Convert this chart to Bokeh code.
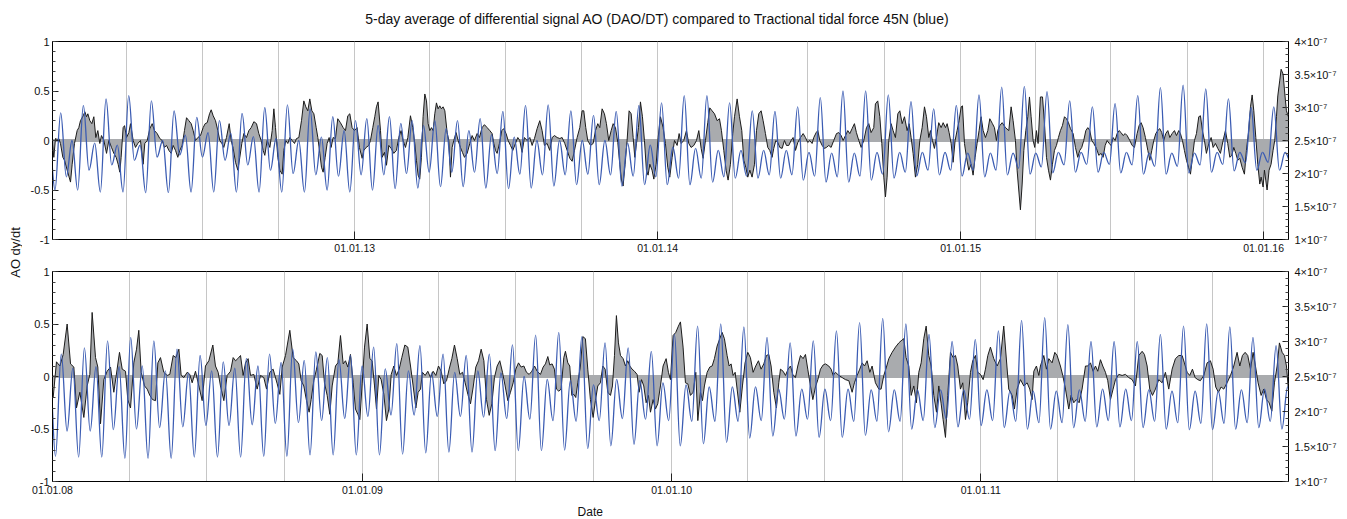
import numpy as np
from bokeh.plotting import figure
from bokeh.layouts import row, column
from bokeh.models import (Range1d, LinearAxis, FixedTicker, Label, Span,
                          CustomJSTickFormatter)
from bokeh.embed import file_html
from bokeh.resources import INLINE

# ---------------- data ----------------
title_text = "5-day average of differential signal AO (DAO/DT) compared to Tractional tidal force 45N (blue)"
y_label = "AO dy/dt"
x_label = "Date"

top_origin = "2012-01-01"
top_view_days = (1.8, 1491.0)
top_year_ticks = ["2013-01-01", "2014-01-01", "2015-01-01", "2016-01-01"]
bot_origin = "2008-01-01"
bot_view_days = (0.0, 1459.3)
bot_year_ticks = ["2008-01-01", "2009-01-01", "2010-01-01", "2011-01-01"]

# tidal force (x 1e-7), successive extrema, one every quarter of a tropical month
tide_step_days = 6.83
top_tide_first_day = -2.0
top_tide = [2.50,
 1.75,2.92,1.95,2.50, 1.75,3.03,2.05,2.46, 1.72,3.13,2.13,2.43, 1.72,3.18,2.20,2.43,
 1.71,3.10,2.25,2.50, 1.71,2.95,2.28,2.58, 1.72,2.85,2.25,2.62, 1.72,2.80,2.20,2.61,
 1.72,2.91,2.13,2.56, 1.72,3.00,2.05,2.53, 1.72,3.04,2.00,2.50, 1.72,2.98,1.98,2.55,
 1.75,2.86,1.96,2.65, 1.72,2.80,1.98,2.83, 1.75,2.73,1.98,2.86, 1.77,2.76,2.00,2.80,
 1.78,2.73,2.02,2.80, 1.80,2.68,2.02,2.80, 1.80,2.65,2.02,2.83, 1.78,2.59,2.00,2.94,
 1.77,2.55,1.99,3.03, 1.78,2.50,1.98,3.04, 1.81,2.50,1.98,2.95, 1.83,2.50,1.99,2.88,
 1.83,2.50,1.98,2.94, 1.81,2.46,1.96,3.03, 1.83,2.43,1.95,3.07, 1.83,2.40,1.93,3.18,
 1.83,2.38,1.93,3.18, 1.87,2.35,1.95,3.07, 1.93,2.35,1.96,2.95, 1.93,2.35,1.98,2.94,
 1.93,2.35,1.98,3.01, 1.90,2.32,1.96,3.15, 1.87,2.31,1.95,3.25, 1.87,2.31,1.96,3.25,
 1.90,2.32,1.99,3.19, 1.93,2.32,2.02,3.09, 1.96,2.32,2.05,2.98, 1.98,2.32,2.05,3.03,
 1.96,2.31,2.05,3.19, 1.95,2.31,2.05,3.31, 1.98,2.31,2.08,3.32, 1.99,2.31,2.10,3.24,
 2.01,2.32,2.13,3.10, 2.02,2.32,2.14,3.01, 2.02,2.32,2.14,3.06, 2.01,2.32,2.13,3.18,
 1.99,2.31,2.11,3.30, 1.99,2.31,2.11,3.34, 2.01,2.31,2.13,3.28, 2.02,2.32,2.14,3.13,
 2.04,2.32,2.16,3.00, 2.05,2.32,2.17,3.01, 2.05,2.32,2.17]
bot_tide_first_day = -3.3
bot_tide = [2.62,
 1.36,2.82,1.72,2.62, 1.35,2.91,1.72,2.64, 1.35,3.01,1.74,2.64, 1.33,3.06,1.75,2.65,
 1.33,3.01,1.77,2.58, 1.33,2.89,1.78,2.55, 1.35,2.80,1.80,2.58, 1.35,2.71,1.80,2.62,
 1.35,2.76,1.81,2.65, 1.36,2.82,1.83,2.70, 1.36,2.89,1.84,2.73, 1.38,2.85,1.87,2.77,
 1.38,2.74,1.90,2.80, 1.38,2.65,1.93,2.92, 1.38,2.61,1.95,2.97, 1.39,2.58,1.95,2.94,
 1.41,2.55,1.93,2.82, 1.42,2.56,1.93,2.80, 1.42,2.58,1.92,2.82, 1.44,2.55,1.90,2.95,
 1.44,2.50,1.89,3.09, 1.44,2.46,1.87,3.13, 1.45,2.44,1.86,3.07, 1.47,2.38,1.87,2.98,
 1.51,2.46,1.90,2.91, 1.53,2.44,1.89,2.86, 1.51,2.41,1.87,3.10, 1.51,2.38,1.86,3.22,
 1.54,2.35,1.86,3.25, 1.56,2.35,1.86,3.21, 1.62,2.35,1.87,3.06, 1.65,2.32,1.89,2.98,
 1.65,2.32,1.89,3.01, 1.63,2.32,1.87,3.15, 1.63,2.32,1.86,3.27, 1.66,2.31,1.86,3.33,
 1.71,2.31,1.86,3.25, 1.75,2.31,1.87,3.10, 1.77,2.31,1.89,3.00, 1.78,2.31,1.89,3.03,
 1.80,2.31,1.87,3.15, 1.77,2.29,1.86,3.30, 1.75,2.29,1.84,3.34, 1.75,2.29,1.84,3.24,
 1.77,2.31,1.86,3.00, 1.78,2.32,1.87,3.00, 1.78,2.32,1.87,3.00, 1.77,2.31,1.86,3.10,
 1.75,2.29,1.84,3.22, 1.74,2.29,1.83,3.25, 1.74,2.29,1.83,3.21, 1.75,2.31,1.84,3.06,
 1.77,2.32,1.86,2.94, 1.75,2.35,1.86]

# AO differential signal: (day since origin, value)
top_ao = [(1.4,0.0),(3.4,-0.17),(5.4,0.02),(7.4,0.01),(9.4,0.02),(11.4,-0.03),(14.3,-0.17),(16.3,-0.20),(19.5,-0.30),(23.5,-0.42),(25.5,-0.24),(28.3,-0.03),(31.5,0.10),(33.5,0.13),(35.5,0.20),(38.8,0.25),(40.8,0.29),(42.8,0.24),(44.4,0.27),(46.8,0.20),(49.2,0.17),(51.6,0.24),(54.0,0.03),(56.4,0.10),(58.8,-0.03),(60.8,0.05),(63.7,0.0),(66.9,-0.13),(69.7,0.0),(72.9,-0.07),(75.7,-0.13),(78.5,-0.17),(80.9,-0.24),(82.9,-0.32),(84.5,-0.17),(86.9,0.13),(88.6,0.15),(91.0,0.03),(93.8,0.08),(95.8,0.17),(99.0,0.0),(101.8,-0.07),(104.6,-0.03),(107.8,0.0),(111.0,-0.24),(113.0,-0.03),(115.9,0.0),(119.1,0.12),(121.9,0.17),(124.7,0.10),(127.9,0.07),(131.1,0.02),(133.9,0.0),(136.7,-0.07),(139.2,-0.05),(142.0,-0.10),(144.8,-0.13),(147.2,-0.05),(150.0,-0.10),(152.8,-0.17),(155.2,-0.10),(158.0,-0.05),(160.8,0.10),(163.3,0.23),(166.1,0.20),(168.9,0.17),(171.3,0.10),(174.1,0.0),(176.9,0.03),(180.1,0.05),(183.3,0.13),(185.7,0.17),(188.2,0.18),(191.0,0.27),(193.0,0.31),(195.4,0.25),(198.2,0.20),(201.0,0.10),(203.4,0.0),(205.8,-0.03),(208.2,-0.07),(211.4,0.03),(214.7,0.17),(217.1,0.0),(219.5,-0.08),(222.3,-0.22),(225.1,-0.30),(227.5,-0.17),(229.9,-0.03),(232.3,0.07),(235.5,0.03),(238.4,0.10),(241.2,0.13),(244.4,0.19),(247.6,0.17),(250.4,0.07),(253.2,0.0),(255.6,-0.10),(257.6,-0.15),(260.4,0.0),(263.7,-0.07),(266.5,0.10),(268.5,0.32),(270.5,0.13),(273.3,-0.17),(275.7,-0.30),(278.5,-0.34),(280.5,-0.10),(282.9,0.0),(285.3,-0.03),(287.8,0.03),(290.6,0.0),(293.4,-0.03),(295.8,0.02),(298.6,0.03),(301.8,0.20),(304.6,0.40),(307.0,0.34),(309.4,0.30),(311.8,0.42),(314.3,0.30),(316.7,0.27),(319.5,0.13),(321.5,0.03),(323.9,-0.13),(325.9,-0.27),(327.9,-0.32),(330.3,-0.17),(332.7,-0.03),(335.1,0.03),(337.5,-0.07),
 (339.9,0.03),(342.7,0.02),(345.5,0.22),(348.7,0.18),(352.0,0.13),(354.8,0.10),(357.6,0.25),(360.0,0.27),(362.8,0.13),(365.6,0.10),(368.8,0.13),(371.6,-0.07),(374.9,-0.18),(376.9,-0.10),(379.7,-0.07),(382.9,-0.05),(384.9,0.0),(387.7,0.13),(390.1,0.24),(392.1,0.34),(394.1,0.39),(397.0,0.10),(399.0,-0.17),(401.8,-0.12),(404.2,-0.25),(407.0,-0.05),(409.8,-0.08),(413.0,-0.13),(416.2,-0.10),(419.0,0.03),(421.8,0.10),(424.2,0.0),(427.1,-0.07),(429.9,0.03),(433.1,0.25),(435.9,0.13),(438.3,-0.03),(440.3,-0.20),(442.3,-0.35),(444.3,-0.39),(446.3,-0.17),(448.3,0.24),(450.4,0.47),(452.4,0.40),(454.4,0.17),(456.4,0.10),(458.4,0.13),(460.4,0.10),(462.4,0.27),(464.4,0.38),(466.4,0.32),(468.4,0.35),(470.4,0.32),(472.4,0.34),(474.5,0.30),(477.3,0.08),(479.3,0.0),(481.3,-0.37),(483.3,-0.07),(485.3,0.0),(488.1,0.08),(490.5,0.0),(493.3,-0.07),(495.7,-0.12),(498.2,-0.17),(501.4,-0.13),(504.6,-0.03),(507.4,0.05),(510.2,0.0),(513.4,0.07),(516.2,0.03),(519.4,0.13),(522.2,0.16),(525.5,0.13),(528.7,0.10),(531.5,0.07),(533.5,-0.03),(535.5,-0.10),(537.5,-0.13),(540.3,-0.03),(543.1,0.10),(545.5,0.12),(548.3,0.07),(550.8,0.0),(553.6,-0.05),(556.4,-0.10),(559.6,-0.03),(562.4,0.03),(564.8,0.0),(567.6,-0.12),(570.4,0.03),(573.6,0.0),(576.9,0.03),(579.7,-0.05),(582.5,0.02),(585.7,0.12),(588.9,0.20),(591.7,0.10),(594.5,-0.05),(597.7,-0.03),(600.9,-0.10),(603.8,0.03),(606.6,0.05),(609.8,0.03),(613.0,0.02),(615.8,0.03),(619.0,-0.03),(621.9,-0.10),(625.1,-0.18),(627.9,-0.21),(630.7,-0.10),(633.9,0.03),(637.1,0.13),(639.9,0.30),(641.9,0.30),(644.3,0.13),(646.7,0.0),(650.0,-0.05),(653.2,-0.03),(656.0,0.10),(658.8,0.17),(661.2,0.13),(664.0,0.32),(666.8,0.27),(669.2,0.17),(672.0,0.0),(674.9,0.10),(677.3,0.17),(680.1,0.13),(682.9,-0.02),(685.3,-0.24),(687.3,-0.40),(689.3,-0.46),(691.7,-0.24),(694.1,0.0),(696.5,0.30),(699.0,0.27),(701.4,0.03),(703.4,-0.17),(705.4,-0.03),(707.8,0.13),(710.2,0.39),(712.6,0.24),(715.0,0.0),(717.4,-0.30),(719.4,-0.35),(721.5,-0.24),(724.2,-0.30),(726.3,-0.39),(729.1,-0.24),(731.5,0.03),
 (734.3,0.24),(737.5,0.13),(740.3,-0.03),(743.1,-0.27),(745.5,-0.37),(748.4,-0.17),(751.2,0.0),(754.4,-0.05),(756.8,0.07),(759.2,-0.03),(762.4,0.0),(765.6,0.10),(768.4,-0.03),(771.2,-0.07),(774.5,-0.05),(777.7,0.0),(780.5,0.10),(783.3,-0.08),(785.7,-0.18),(788.5,0.0),(791.3,0.18),(793.7,0.33),(796.5,0.30),(799.4,0.27),(802.6,0.20),(805.4,0.22),(807.8,0.10),(810.6,-0.10),(813.4,-0.30),(815.8,-0.40),(818.6,-0.24),(821.4,0.07),(823.5,0.24),(826.7,0.42),(829.5,0.24),(832.3,0.10),(834.7,-0.20),(837.1,-0.27),(839.5,-0.37),(842.0,-0.30),(844.7,-0.37),(847.6,-0.24),(850.0,0.10),(852.8,0.27),(855.6,0.30),(858.0,0.20),(860.8,0.07),(863.6,-0.07),(866.0,-0.10),(868.8,-0.17),(870.8,-0.08),(873.3,0.0),(875.7,-0.02),(878.1,-0.07),(880.9,-0.08),(883.7,0.0),(886.1,-0.05),(888.9,-0.05),(891.7,0.0),(894.1,0.03),(897.0,-0.10),(899.8,-0.02),(903.0,0.03),(906.2,0.07),(909.0,0.03),(911.8,-0.02),(914.2,0.0),(917.0,-0.03),(919.0,0.03),(921.9,0.08),(923.9,0.10),(926.3,0.0),(929.1,-0.05),(931.9,-0.08),(934.3,-0.07),(937.1,-0.05),(939.9,-0.07),(943.1,0.0),(946.4,0.07),(949.2,0.08),(952.0,0.05),(954.4,0.0),(957.2,0.05),(960.0,0.10),(962.4,0.07),(965.2,0.12),(968.0,0.17),(970.4,0.08),(973.3,0.0),(976.1,-0.07),(979.3,0.0),(982.5,0.13),(985.3,0.17),(988.1,0.08),(991.3,0.13),(993.3,0.37),(996.1,0.40),(998.6,0.24),(1001.0,-0.03),(1003.4,-0.37),(1005.4,-0.57),(1007.4,-0.37),(1009.4,0.0),(1012.2,0.17),(1014.6,0.10),(1017.4,0.03),(1020.3,0.27),(1022.7,0.30),(1025.5,0.17),(1028.3,0.24),(1031.5,0.10),(1033.9,0.17),(1036.3,0.03),(1038.7,-0.13),(1041.5,-0.37),(1044.3,-0.24),(1046.8,0.0),(1049.6,0.13),(1052.4,0.34),(1054.8,0.24),(1057.6,0.03),(1059.6,0.10),(1062.0,0.0),(1064.4,-0.08),(1066.8,0.03),(1069.6,0.18),(1072.5,0.13),(1074.9,0.18),(1077.7,0.13),(1079.7,0.17),(1082.1,0.08),(1084.5,-0.03),(1086.9,-0.22),(1089.3,0.0),(1091.7,0.10),(1094.1,0.20),(1096.6,0.34),(1098.2,0.35),(1100.6,-0.03),(1103.0,-0.17),(1105.8,-0.30),(1108.6,-0.24),(1111.0,-0.35),(1113.4,-0.17),(1115.8,-0.03),(1118.2,0.10),(1120.6,0.24),(1123.1,0.10),(1125.9,0.03),(1128.7,0.10),(1131.1,0.22),
 (1134.3,0.17),(1136.7,0.13),(1139.1,0.0),(1140.7,0.10),(1143.1,0.15),(1146.0,0.18),(1150.0,0.13),(1154.0,0.10),(1156.8,0.34),(1159.2,0.20),(1162.0,0.0),(1164.0,-0.30),(1166.0,-0.50),(1168.0,-0.70),(1170.1,-0.44),(1172.1,-0.10),(1174.5,0.10),(1176.9,0.24),(1178.9,0.44),(1180.9,0.24),(1183.3,0.0),(1185.3,-0.07),(1187.3,0.10),(1189.3,-0.03),(1192.1,0.44),(1194.6,0.44),(1197.0,0.17),(1199.4,-0.17),(1201.8,-0.30),(1204.2,-0.40),(1206.6,-0.24),(1209.0,-0.10),(1211.4,-0.05),(1213.8,0.03),(1216.2,0.10),(1218.6,0.15),(1221.1,0.24),(1223.5,0.22),(1225.9,0.18),(1228.3,0.12),(1231.5,0.07),(1234.3,-0.07),(1237.1,-0.17),(1239.5,-0.10),(1241.9,-0.07),(1244.3,0.0),(1246.8,0.10),(1249.2,0.13),(1251.6,0.10),(1254.0,0.0),(1256.4,-0.03),(1259.6,-0.08),(1262.4,-0.15),(1265.2,-0.13),(1267.6,-0.17),(1270.1,-0.05),(1272.5,0.0),(1274.9,-0.03),(1277.3,-0.05),(1279.7,0.03),(1282.1,0.0),(1284.5,0.07),(1286.9,0.10),(1289.3,0.08),(1291.7,0.05),(1294.2,0.07),(1296.6,0.05),(1299.8,0.0),(1302.6,-0.05),(1305.4,-0.07),(1308.6,0.07),(1311.0,0.15),(1313.4,0.18),(1315.8,0.13),(1318.6,0.03),(1321.5,-0.10),(1323.9,-0.20),(1326.3,-0.10),(1328.7,0.0),(1331.1,0.07),(1333.5,0.10),(1335.9,0.12),(1338.3,0.08),(1340.7,0.0),(1343.1,0.07),(1345.6,0.10),(1348.0,0.03),(1350.8,0.07),(1353.6,0.10),(1356.0,0.05),(1358.8,0.10),(1360.8,0.07),(1363.2,0.0),(1365.6,-0.10),(1368.1,-0.20),(1370.5,-0.27),(1372.9,-0.34),(1375.3,-0.17),(1377.7,0.0),(1380.1,0.07),(1382.9,0.24),(1384.9,0.25),(1387.3,0.10),(1389.7,0.0),(1392.1,-0.13),(1395.0,-0.03),(1397.8,0.03),(1400.2,-0.07),(1403.0,-0.03),(1405.8,-0.08),(1409.0,-0.13),(1412.2,0.0),(1415.0,0.10),(1417.8,-0.03),(1420.3,-0.17),(1422.7,-0.15),(1425.1,-0.07),(1427.5,-0.13),(1429.9,-0.20),(1432.3,-0.18),(1435.1,-0.27),(1437.9,-0.34),(1440.3,-0.10),(1443.1,0.10),(1445.2,0.34),(1447.2,0.46),(1449.2,0.30),(1451.6,0.03),(1454.0,-0.24),(1456.4,-0.44),(1458.0,-0.37),(1460.4,-0.47),(1462.0,-0.30),(1463.6,-0.40),(1465.2,-0.50),(1467.6,-0.30),(1470.0,-0.24),(1472.4,-0.10),(1474.4,0.0),(1476.5,0.24),(1478.1,0.45),(1480.5,0.61),(1482.1,0.72),(1484.5,0.67),(1486.9,0.44),(1488.5,0.30),(1490.9,0.24)]

bot_ao = [(0.8,-0.20),(4.7,0.14),(8.7,0.10),(12.6,0.21),(17.3,0.50),(21.3,0.12),(25.2,0.09),(28.3,-0.30),(32.3,-0.15),(37.0,-0.39),(40.9,-0.09),(44.1,0.02),(46.8,0.61),(50.8,0.18),(53.5,0.09),(56.7,-0.45),(60.6,-0.03),(64.5,0.05),(68.5,0.09),(72.4,-0.15),(76.3,0.07),(79.1,0.23),(82.3,0.07),(86.2,0.05),(88.9,-0.22),(92.1,-0.30),(96.0,0.13),(99.2,0.26),(101.9,0.44),(104.7,0.04),(108.6,-0.09),(111.8,-0.12),(114.9,-0.18),(118.1,-0.22),(121.6,-0.23),(124.4,0.13),(127.5,0.18),(131.4,0.04),(135.4,0.01),(138.5,0.02),(142.5,0.20),(145.6,0.18),(149.2,0.26),(151.9,0.01),(155.1,-0.01),(159.0,0.04),(162.1,0.02),(164.9,-0.06),(168.8,0.05),(172.8,-0.09),(176.7,-0.23),(180.6,0.10),(184.6,0.15),(189.3,0.30),(192.4,0.10),(195.6,0.04),(198.3,-0.09),(202.3,-0.23),(206.2,0.01),(210.2,0.05),(213.3,0.18),(216.1,0.15),(218.8,0.17),(222.0,0.20),(225.1,0.01),(227.9,0.13),(231.0,0.17),(233.8,0.01),(237.7,0.02),(241.6,-0.12),(245.6,0.01),(249.5,-0.01),(252.7,-0.12),(256.6,0.04),(260.5,0.07),(265.3,-0.07),(268.4,-0.17),(271.2,0.09),(275.1,0.20),(280.2,0.44),
 (284.1,0.18),(288.1,0.15),(290.8,0.12),(293.6,-0.04),(296.7,-0.09),(299.9,-0.23),(303.0,-0.34),(305.4,-0.22),(308.5,-0.04),(311.7,0.07),(315.6,0.22),(318.4,0.20),(321.1,-0.06),(324.3,-0.18),(327.4,-0.36),(330.2,-0.09),(334.1,0.10),(336.9,0.13),(340.0,0.39),(343.2,0.12),(345.9,0.15),(348.7,0.09),(351.8,0.21),(355.0,-0.06),(357.7,-0.31),(360.5,-0.36),(362.9,-0.41),(365.6,-0.07),(368.4,0.28),(371.5,0.50),(374.7,0.17),(377.4,0.15),(380.2,-0.09),(382.5,-0.31),(385.3,0.01),(388.0,-0.03),(391.2,-0.17),(394.3,-0.42),(397.1,-0.31),(399.9,0.02),(403.0,0.10),(406.1,0.01),(409.3,0.07),(412.4,0.18),(416.0,0.30),(419.5,0.28),(422.7,0.10),(425.8,-0.09),(429.0,-0.30),(431.7,-0.15),(434.5,-0.12),(436.8,0.04),(440.0,0.01),(443.1,0.05),(446.3,-0.01),(449.4,0.05),(452.6,0.01),(455.7,0.10),(458.9,0.05),(462.0,-0.07),(465.2,-0.04),(468.3,0.07),(471.5,0.17),(474.6,0.30),(477.8,0.17),(480.9,0.02),(484.1,0.04),(487.2,-0.06),(490.4,-0.17),(493.5,-0.26),(496.7,-0.10),(499.8,0.09),(503.0,0.15),(506.1,0.26),(509.3,0.15),(512.4,-0.22),(515.6,-0.37),(518.7,-0.26),(521.8,-0.01),(525.0,0.10),(528.1,0.15),(531.3,0.04),(534.4,-0.09),(537.6,-0.23),(540.7,-0.15),(543.9,-0.06),(547.0,0.07),(550.2,0.13),(553.3,0.09),(556.5,0.10),(559.6,0.04),(562.8,0.02),(565.9,0.05),(569.1,0.10),(572.2,0.05),
 (576.1,0.02),(579.3,0.09),(582.0,0.12),(584.8,0.19),(587.1,0.11),(589.9,0.12),(592.6,0.07),(595.0,-0.12),(597.8,-0.14),(600.5,-0.12),(603.7,0.18),(605.6,0.24),(608.4,0.13),(610.7,0.10),(613.1,-0.18),(615.5,-0.17),(617.8,-0.20),(620.2,-0.06),(623.3,0.10),(626.1,0.38),(629.2,0.36),(632.0,0.07),(635.1,-0.22),(638.3,-0.39),(641.0,-0.23),(643.8,-0.09),(646.9,-0.06),(649.7,0.10),(652.5,0.07),(655.6,-0.15),(658.8,-0.18),(661.1,-0.09),(663.5,0.20),(665.8,0.58),(668.2,0.32),(670.6,0.20),(673.7,0.17),(676.5,0.10),(679.2,0.15),(681.6,0.10),(684.3,0.07),(687.1,0.05),(690.2,0.02),(692.6,-0.15),(695.4,-0.03),(698.1,-0.09),(700.9,-0.25),(703.6,-0.18),(706.0,-0.34),(709.1,-0.22),(711.9,-0.31),(714.6,-0.26),(717.8,-0.09),(720.9,0.10),(724.5,0.17),(727.2,0.04),(729.6,-0.03),(732.7,0.39),(735.9,0.42),(739.0,0.48),(741.4,0.52),(744.5,0.28),(747.3,-0.06),(750.1,-0.07),(753.2,-0.18),(756.4,-0.15),(759.5,0.04),(761.9,-0.42),(765.0,-0.15),(767.4,-0.23),(769.7,-0.09),(772.9,0.04),(776.0,0.09),(778.8,0.10),(781.5,0.17),(784.7,0.29),(787.8,0.36),(790.6,0.42),(793.3,0.36),(796.5,0.20),(798.9,0.10),(801.2,0.12),(803.6,0.01),(806.0,0.04),(808.3,-0.12),(811.5,-0.34),(814.6,-0.09),(817.7,0.13),(820.9,0.23),(824.0,0.18),(827.2,0.04),(830.3,0.10),(833.5,0.15),(836.6,0.07),(839.8,0.12),(842.9,0.20),(845.7,0.21),(848.4,0.10),(851.6,-0.15),(854.7,-0.30),(857.5,-0.06),
 (859.5,0.07),(862.6,0.05),(865.4,0.01),(868.5,0.07),(871.3,0.10),(874.4,0.01),(877.2,-0.01),(879.9,0.10),(883.1,0.20),(886.2,0.17),(889.0,0.21),(891.7,0.07),(894.9,-0.09),(897.7,-0.22),(900.8,-0.10),(903.6,-0.03),(906.7,0.07),(909.9,0.11),(912.6,0.12),(916.5,0.10),(919.3,0.07),(921.7,0.01),(924.4,0.04),(928.4,0.01),(932.3,-0.01),(936.2,-0.03),(940.2,-0.04),(944.1,-0.15),(946.8,-0.06),(950.0,0.01),(953.1,0.07),(955.9,0.13),(958.7,0.10),(961.8,0.15),(965.0,0.04),(967.7,0.10),(971.6,-0.06),(975.6,-0.12),(978.3,-0.12),(981.5,0.01),(984.6,0.09),(987.4,0.17),(991.3,0.23),(995.3,0.28),(999.2,0.32),(1001.9,0.34),(1005.1,0.36),(1007.8,0.18),(1011.0,0.10),(1013.8,-0.18),(1016.9,-0.09),(1020.0,-0.25),(1022.8,0.04),(1025.6,0.13),(1028.7,0.36),(1031.5,0.48),(1034.6,0.20),(1037.4,0.10),(1040.5,-0.18),(1043.7,-0.34),(1046.4,-0.09),(1049.2,-0.26),(1051.5,-0.41),(1054.3,-0.58),(1057.0,-0.18),(1060.2,0.23),(1063.3,0.18),(1066.1,0.20),(1068.8,0.10),(1072.0,-0.12),(1074.7,-0.06),(1077.9,-0.41),(1080.6,-0.25),(1083.8,0.04),(1086.5,0.15),(1089.7,0.20),(1092.4,0.04),(1095.6,0.02),(1098.8,-0.03),(1101.5,0.07),(1104.3,0.20),
 (1107.4,0.28),(1111.3,0.17),(1115.3,0.10),(1119.2,0.17),(1123.1,0.48),(1129.0,-0.12),(1133.0,-0.18),(1135.7,-0.31),(1138.9,-0.12),(1142.8,-0.03),(1146.8,-0.09),(1150.7,-0.06),(1153.8,-0.12),(1156.6,-0.22),(1158.6,0.05),(1161.7,0.10),(1164.5,0.01),(1166.4,0.10),(1170.4,0.20),(1173.5,0.07),(1176.3,0.17),(1180.2,0.13),(1183.4,0.23),(1186.1,0.20),(1190.0,0.10),(1192.8,0.01),(1196.0,-0.12),(1199.9,-0.31),(1202.6,-0.18),(1205.8,-0.25),(1208.9,-0.22),(1212.1,-0.25),(1215.6,-0.12),(1219.6,0.10),(1222.3,0.10),(1225.5,0.13),(1228.6,0.05),(1231.4,0.10),(1234.1,0.05),(1237.3,0.16),(1240.0,0.10),(1243.2,0.04),(1245.9,-0.04),(1249.1,-0.22),(1252.2,-0.12),(1255.0,-0.03),(1258.9,0.02),(1262.9,0.01),(1266.8,0.02),(1270.7,-0.01),(1274.7,-0.03),(1278.6,-0.09),(1282.5,0.20),(1286.5,0.24),(1289.2,0.21),(1292.4,0.10),(1295.5,-0.12),(1298.7,-0.18),(1302.2,-0.12),(1306.1,-0.03),(1310.1,-0.06),(1314.0,0.04),(1317.9,-0.12),(1321.9,0.07),(1325.8,0.17),(1329.8,0.20),(1333.7,0.20),(1336.4,0.13),(1339.6,0.04),(1342.7,0.01),(1345.9,0.07),(1349.0,-0.01),(1352.2,-0.03),(1355.3,-0.04),(1359.3,0.01),(1363.2,0.13),(1367.1,0.15),(1370.3,0.07),(1373.4,-0.10),(1376.6,-0.15),(1379.7,-0.10),(1382.9,-0.12),(1386.8,-0.06),(1390.8,0.01),(1394.7,0.10),(1398.6,0.23),(1401.8,0.10),(1404.9,0.20),(1408.1,0.23),(1411.2,0.20),(1414.4,0.07),(1417.5,0.23),(1420.3,0.10),(1423.4,-0.06),(1427.0,-0.18),(1430.1,-0.12),(1433.3,-0.22),(1436.4,-0.25),(1439.6,-0.33),(1442.7,-0.06),(1445.9,0.10),(1448.6,0.32),(1451.8,0.23),(1454.5,0.20),(1456.9,0.10),(1459.6,-0.17)]

left_ticks = [-1, -0.5, 0, 0.5, 1]
right_ticks = [1, 1.5, 2, 2.5, 3, 3.5, 4]

# ---------------- style ----------------
FONT = "Liberation Sans"
BLUE = "#3b5cb3"
BLACK = "#1c1c1c"
FILL = "#a9abae"
GRID = "#c6c6c6"
DAY = 86400000.0
MAIN_W = 1324


def ms(s):
    return float(np.datetime64(s, "ms").astype("int64"))


def style_axis(ax, tick_in, minor_in):
    ax.major_tick_in = tick_in
    ax.major_tick_out = 0
    ax.minor_tick_in = minor_in
    ax.minor_tick_out = 0
    ax.axis_line_color = "black"
    ax.major_tick_line_color = "#222222"
    ax.minor_tick_line_color = "#444444"
    ax.major_label_text_font = FONT
    ax.major_label_text_font_size = "11px"
    ax.major_label_text_color = "#111111"


def strip(width, height):
    s = figure(width=width, height=height, x_range=Range1d(0, 1), y_range=Range1d(0, 1),
               x_axis_location=None, y_axis_location=None, output_backend="svg",
               toolbar_location=None, min_border=0, outline_line_color=None)
    s.grid.visible = False
    return s


def panel(origin, view, ao, tide_first, tide, years, height, btop, bbot):
    o = ms(origin)
    p = figure(width=MAIN_W, height=height, x_axis_type="datetime",
               x_range=Range1d(o + view[0] * DAY, o + view[1] * DAY),
               y_range=Range1d(-1, 1), output_backend="svg", toolbar_location=None,
               min_border_left=30, min_border_right=MAIN_W - 30 - 1236, min_border_top=btop,
               min_border_bottom=bbot, outline_line_color="black", outline_line_width=1)
    p.extra_y_ranges = {"tide": Range1d(1, 4)}

    y0 = int(years[0][:4]) - 1
    quarters = [ms("%d-%02d-01" % (y, m)) for y in range(y0, y0 + 6) for m in (1, 4, 7, 10)]
    p.xgrid.ticker = FixedTicker(ticks=quarters)
    p.xgrid.grid_line_color = GRID
    p.ygrid.grid_line_color = None

    xa = p.xaxis[0]
    xa.ticker = FixedTicker(ticks=[ms(y) for y in years])
    xa.formatter = CustomJSTickFormatter(code="""
        const d = new Date(tick);
        const f = (n) => String(n).padStart(2, '0');
        return f(d.getUTCDate()) + '.' + f(d.getUTCMonth() + 1) + '.' + f(d.getUTCFullYear() % 100);
    """)
    style_axis(xa, 8, 0)
    xa.minor_tick_line_color = None
    xa.major_label_standoff = 4
    xa.major_label_text_font_size = "10.5px"

    ya = p.yaxis[0]
    ya.ticker = FixedTicker(ticks=left_ticks, minor_ticks=[round(-1 + 0.1 * i, 1) for i in range(21)])
    ya.formatter = CustomJSTickFormatter(code="return tick.toString();")
    style_axis(ya, 6, 3)
    ya.major_label_standoff = 3

    ra = LinearAxis(y_range_name="tide",
                    ticker=FixedTicker(ticks=right_ticks,
                                       minor_ticks=[round(1 + 0.1 * i, 1) for i in range(31)]),
                    formatter=CustomJSTickFormatter(code="return tick + '\u00d710\u207b\u2077';"))
    style_axis(ra, 6, 3)
    ra.major_label_standoff = 6
    p.add_layout(ra, "right")

    p.add_layout(Span(location=0, dimension="width", line_color=FILL, line_width=3, level="underlay"))

    ad = np.array([d for d, v in ao])
    av = np.array([v for d, v in ao])
    ax = o + ad * DAY
    p.varea(x=ax, y1=np.zeros(len(ax)), y2=av, fill_color=FILL, fill_alpha=1.0)
    p.line(ax, av, line_color=BLACK, line_width=1)

    # tidal curve: smooth path through successive extrema (flat tangents at each extremum)
    tx = o + (tide_first + np.arange(len(tide)) * tide_step_days) * DAY
    ty = np.array(tide, dtype=float)
    x0, x1, y0v, y1v = tx[:-1], tx[1:], ty[:-1], ty[1:]
    dx = x1 - x0
    p.bezier(x0=x0, y0=y0v, x1=x1, y1=y1v, cx0=x0 + 0.37 * dx, cy0=y0v,
             cx1=x1 - 0.37 * dx, cy1=y1v, y_range_name="tide",
             line_color=BLUE, line_width=1.3)
    return p


top = panel(top_origin, top_view_days, top_ao, top_tide_first_day, top_tide,
            top_year_ticks, 226, 11, 17)
bot = panel(bot_origin, bot_view_days, bot_ao, bot_tide_first_day, bot_tide,
            bot_year_ticks, 244, 15, 19)

title_fig = strip(MAIN_W, 30)
title_fig.add_layout(Label(x=648 / MAIN_W, y=0.4, text=title_text, text_align="center",
                           text_baseline="middle", text_font=FONT, text_font_size="14px",
                           text_color="#111111"))
date_fig = strip(MAIN_W, 18)
date_fig.add_layout(Label(x=576 / MAIN_W, y=0.36, text=x_label, text_align="center",
                          text_baseline="middle", text_font=FONT, text_font_size="12px",
                          text_color="#111111"))
yl = strip(22, 518)
yl.add_layout(Label(x=15 / 22, y=1 - 252 / 518, text=y_label, angle=np.pi / 2,
                    text_align="center", text_baseline="middle", text_font=FONT,
                    text_font_size="13px", text_color="#111111"))

layout = row(yl, column(title_fig, top, bot, date_fig, spacing=0), spacing=0)
open("out.html", "w").write(file_html(layout, INLINE, title="chart"))
